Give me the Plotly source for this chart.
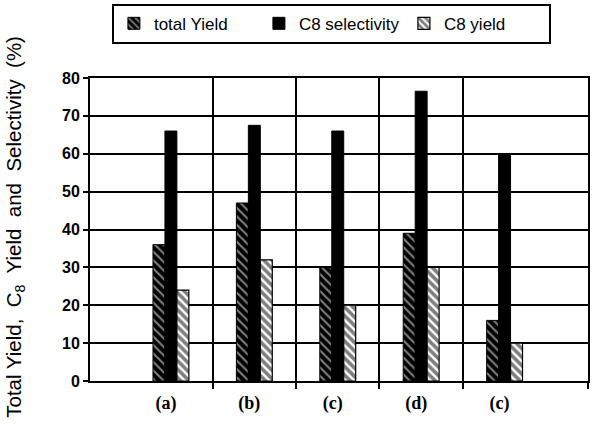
import plotly.graph_objects as go

# Catalyst runs and measured yields / selectivity (%)
runs = [1, 2, 3, 4, 5]
run_labels = ["(a)", "(b)", "(c)", "(d)", "(c)"]
total_yield = [36, 47, 30, 39, 16]
c8_selectivity = [66, 67.5, 66, 76.5, 60]
c8_yield = [24, 32, 20, 30, 10]

# Category boundaries (separator lines between runs)
separators = [1.5, 2.5, 3.5, 4.5, 6.0]
y_ticks = list(range(0, 81, 10))

fig = go.Figure()
fig.add_trace(go.Bar(
    x=runs, y=total_yield, name="total Yield",
    marker=dict(color="black", line=dict(color="black", width=1),
                pattern=dict(shape="\\", fgcolor="white", bgcolor="black",
                             size=6, solidity=0.35)),
))
fig.add_trace(go.Bar(
    x=runs, y=c8_selectivity, name="C8 selectivity",
    marker=dict(color="black", line=dict(color="black", width=1)),
))
fig.add_trace(go.Bar(
    x=runs, y=c8_yield, name="C8 yield",
    marker=dict(color="white", line=dict(color="black", width=1.2),
                pattern=dict(shape="\\", fgcolor="black", bgcolor="white",
                             size=6, solidity=0.6)),
))

fig.update_layout(
    width=594, height=425,
    margin=dict(l=90, r=4, t=77, b=44),
    paper_bgcolor="white", plot_bgcolor="white",
    barmode="group", bargap=0.57, bargroupgap=0,
    font=dict(family="Liberation Sans, Arial, sans-serif", color="black"),
    showlegend=True,
    legend=dict(
        orientation="h", x=0.044, xanchor="left", y=1.245, yanchor="top",
        bordercolor="black", borderwidth=2, bgcolor="white",
        font=dict(size=17, color="black"),
        entrywidth=100, entrywidthmode="pixels",
        traceorder="normal",
    ),
    annotations=[dict(
        text="Total Yield,  C<sub>8</sub>  Yield  and  Selectivity  (%)",
        textangle=-90, xref="paper", yref="paper",
        x=-0.15, y=0.51, xanchor="center", yanchor="middle",
        showarrow=False, font=dict(size=20.5, color="black"),
    )],
)

fig.update_xaxes(
    range=[0.03, 6.0],
    tickvals=runs, ticktext=run_labels, ticks="",
    tickfont=dict(family="Liberation Serif, Times New Roman, serif",
                  size=18, color="black", weight="bold"),
    ticklabelshift=-5, ticklabelstandoff=4,
    showgrid=False, zeroline=False,
    showline=True, linecolor="black", linewidth=2, mirror=True,
    minor=dict(tickvals=separators, ticks="outside", ticklen=6,
               tickcolor="black", tickwidth=1.5,
               showgrid=True, gridcolor="black", gridwidth=1.5),
)

fig.update_yaxes(
    range=[0, 80], tickvals=y_ticks,
    ticks="outside", ticklen=5, tickcolor="black", tickwidth=1.5,
    tickfont=dict(size=16, color="black", weight="bold"),
    showgrid=True, gridcolor="black", gridwidth=1.5,
    zeroline=False,
    showline=True, linecolor="black", linewidth=2, mirror=True,
)

fig.write_html("out.html")
